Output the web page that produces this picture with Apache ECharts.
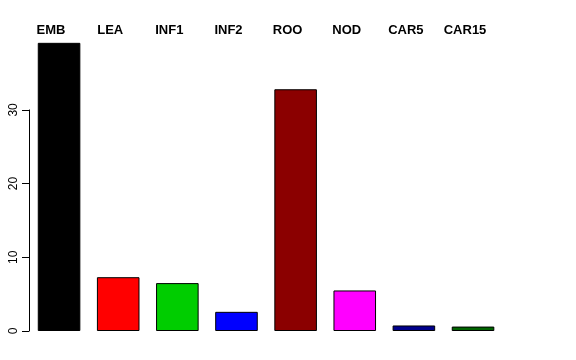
<!DOCTYPE html>
<html><head><meta charset="utf-8">
<script src="https://cdn.jsdelivr.net/npm/echarts@6/dist/echarts.min.js"></script>
<style>html,body{margin:0;padding:0;background:#fff}#c{width:576px;height:360px}</style>
</head><body><div id="c"></div>
<script>
var categories = ['EMB','LEA','INF1','INF2','ROO','NOD','CAR5','CAR15'];
var values = [39.1, 7.3, 6.5, 2.6, 32.8, 5.5, 0.75, 0.6];
var colors = ['#000000','#FF0000','#00CD00','#0000FF','#8B0000','#FF00FF','#00008B','#006400'];
var yTicks = [0, 10, 20, 30];

var chart = echarts.init(document.getElementById('c'), null, {renderer:'canvas'});
chart.setOption({
  animation:false,
  backgroundColor:'#fff',
  grid:[
    {left:29.5, width:473.1, bottom:29, height:294.8},
    {left:29, width:1, bottom:29, height:221.1}
  ],
  xAxis:[
    {type:'category', gridIndex:0, data:categories, position:'top',
     axisLine:{show:false}, axisTick:{show:false},
     axisLabel:{margin:-1, fontFamily:'Liberation Sans, Arial, sans-serif', fontWeight:'bold', fontSize:13, color:'#000', padding:[0,16,0,0], interval:0}},
    {type:'category', gridIndex:1, data:[''], show:false}
  ],
  yAxis:[
    {type:'value', gridIndex:0, min:0, max:40, show:false},
    {type:'value', gridIndex:1, min:yTicks[0], max:yTicks[yTicks.length-1], interval:10,
     axisLine:{show:true, lineStyle:{color:'#000', width:1}},
     axisTick:{show:true, length:7, lineStyle:{color:'#000'}},
     splitLine:{show:false},
     axisLabel:{rotate:90, margin:9, fontFamily:'Liberation Sans, Arial, sans-serif', fontSize:12, color:'#000'}}
  ],
  series:[{
    type:'bar', xAxisIndex:0, yAxisIndex:0,
    barCategoryGap:'28%',
    data: values.map(function(v,i){return {value:v, itemStyle:{color:colors[i]}};}),
    itemStyle:{borderColor:'#000', borderWidth:1}
  }]
});
</script></body></html>
